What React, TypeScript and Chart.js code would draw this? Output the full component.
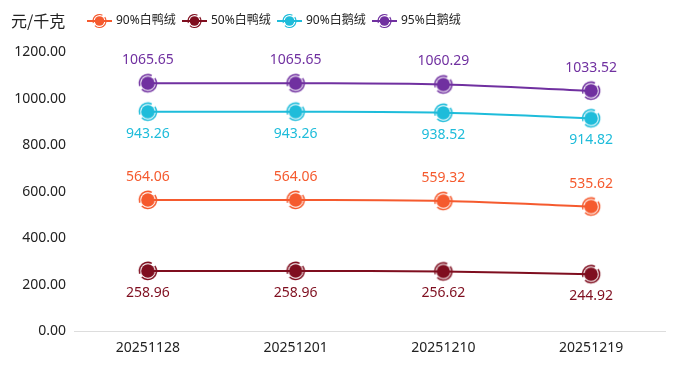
import React, { useEffect, useRef } from "react";
import { Chart, registerables } from "chart.js";

Chart.register(...registerables);

const categories = ["20251128", "20251201", "20251210", "20251219"];
const seriesNames = ["90%白鸭绒", "50%白鸭绒", "90%白鹅绒", "95%白鹅绒"];
const duck90 = [564.06, 564.06, 559.32, 535.62];
const duck50 = [258.96, 258.96, 256.62, 244.92];
const goose90 = [943.26, 943.26, 938.52, 914.82];
const goose95 = [1065.65, 1065.65, 1060.29, 1033.52];
const colors = ["#F55A2E", "#7F0E1F", "#1EBCDA", "#7030A0"];
const labelAbove = [true, false, false, true];
const yTicksMin = 0;
const yTicksMax = 1200;
const yStep = 200;
const unitLabel = "元/千克";

const FONT = "'Noto Sans', 'Noto Sans CJK SC', sans-serif";

function makeMarker(color: string): HTMLCanvasElement {
  const c = document.createElement("canvas");
  const s = 22;
  c.width = s;
  c.height = s;
  const ctx = c.getContext("2d")!;
  const cx = s / 2, cy = s / 2;
  ctx.fillStyle = color;
  ctx.beginPath();
  ctx.arc(cx, cy, 6.8, 0, Math.PI * 2);
  ctx.fill();
  ctx.strokeStyle = color;
  ctx.lineWidth = 1.5;
  const segs = [
    [-0.2 * Math.PI, 0.75 * Math.PI],
    [0.9 * Math.PI, 1.65 * Math.PI],
  ];
  for (const [a, b] of segs) {
    ctx.beginPath();
    ctx.arc(cx, cy, 8.6, a, b);
    ctx.stroke();
  }
  return c;
}

function makeLegendMarker(color: string): HTMLCanvasElement {
  const c = document.createElement("canvas");
  c.width = 25;
  c.height = 16;
  const ctx = c.getContext("2d")!;
  ctx.strokeStyle = color;
  ctx.lineWidth = 2;
  ctx.beginPath();
  ctx.moveTo(0, 8);
  ctx.lineTo(25, 8);
  ctx.stroke();
  ctx.fillStyle = color;
  ctx.beginPath();
  ctx.arc(12.5, 8, 4.8, 0, Math.PI * 2);
  ctx.fill();
  ctx.strokeStyle = color;
  ctx.lineWidth = 1.2;
  ctx.beginPath();
  ctx.arc(12.5, 8, 6.5, -0.2 * Math.PI, 0.75 * Math.PI);
  ctx.stroke();
  ctx.beginPath();
  ctx.arc(12.5, 8, 6.5, 0.9 * Math.PI, 1.65 * Math.PI);
  ctx.stroke();
  return c;
}

const valueLabelPlugin = {
  id: "valueLabels",
  afterDatasetsDraw(chart: any) {
    const ctx = chart.ctx;
    ctx.save();
    ctx.font = `14px ${FONT}`;
    ctx.textAlign = "center";
    chart.data.datasets.forEach((ds: any, i: number) => {
      const meta = chart.getDatasetMeta(i);
      ctx.fillStyle = colors[i];
      meta.data.forEach((pt: any, j: number) => {
        const v = ds.data[j] as number;
        const txt = v.toFixed(2);
        if (labelAbove[i]) {
          ctx.textBaseline = "bottom";
          ctx.fillText(txt, pt.x, pt.y - 16);
        } else {
          ctx.textBaseline = "top";
          ctx.fillText(txt, pt.x, pt.y + 15);
        }
      });
    });
    ctx.restore();
  },
};

const headerPlugin = {
  id: "header",
  afterDraw(chart: any) {
    const ctx = chart.ctx;
    ctx.save();
    ctx.font = `16px 'Noto Sans CJK SC', sans-serif`;
    ctx.fillStyle = "#222";
    ctx.textBaseline = "middle";
    ctx.textAlign = "left";
    ctx.fillText(unitLabel, 11, 21);
    ctx.font = `12px ${FONT}`;
    chart.data.datasets.forEach((ds: any, i: number) => {
      const x = 87 + i * 95;
      const img = makeLegendMarker(colors[i]);
      ctx.drawImage(img, x, 13);
      ctx.fillStyle = "#222";
      ctx.fillText(ds.label, x + 29, 21);
    });
    ctx.restore();
  },
};

export default function App() {
  const ref = useRef<HTMLCanvasElement | null>(null);
  useEffect(() => {
    if (!ref.current) return;
    const series = [duck90, duck50, goose90, goose95];
    const chart = new Chart(ref.current, {
      type: "line",
      data: {
        labels: categories,
        datasets: series.map((d, i) => ({
          label: seriesNames[i],
          data: d,
          borderColor: colors[i],
          backgroundColor: colors[i],
          borderWidth: 2,
          tension: 0.35,
          pointStyle: makeMarker(colors[i]) as any,
          pointRadius: 10,
          pointHoverRadius: 10,
        })),
      },
      options: {
        animation: false,
        responsive: false,
        maintainAspectRatio: false,
        layout: { padding: { top: 52, right: 11, left: 8, bottom: 3 } },
        plugins: {
          legend: { display: false },
          tooltip: { enabled: false },
        },
        scales: {
          x: {
            offset: true,
            grid: { display: false, drawTicks: false },
            border: { display: true, color: "#DDDDDD" },
            ticks: {
              padding: 8,
              color: "#222",
              font: { size: 14, family: FONT },
            },
          },
          y: {
            min: yTicksMin,
            max: yTicksMax,
            grid: { display: false, drawTicks: false },
            border: { display: false },
            afterFit: (scale: any) => {
              scale.width = 66;
            },
            ticks: {
              stepSize: yStep,
              padding: 8,
              color: "#222",
              font: { size: 14, family: FONT },
              callback: (v: any) => Number(v).toFixed(2),
            },
          },
        },
      },
      plugins: [valueLabelPlugin, headerPlugin],
    });
    return () => chart.destroy();
  }, []);
  return (
    <div style={{ position: "fixed", left: 0, top: 0, width: 677, height: 367, background: "#fff" }}>
      <canvas ref={ref} width={677} height={367} style={{ width: 677, height: 367 }} />
    </div>
  );
}
